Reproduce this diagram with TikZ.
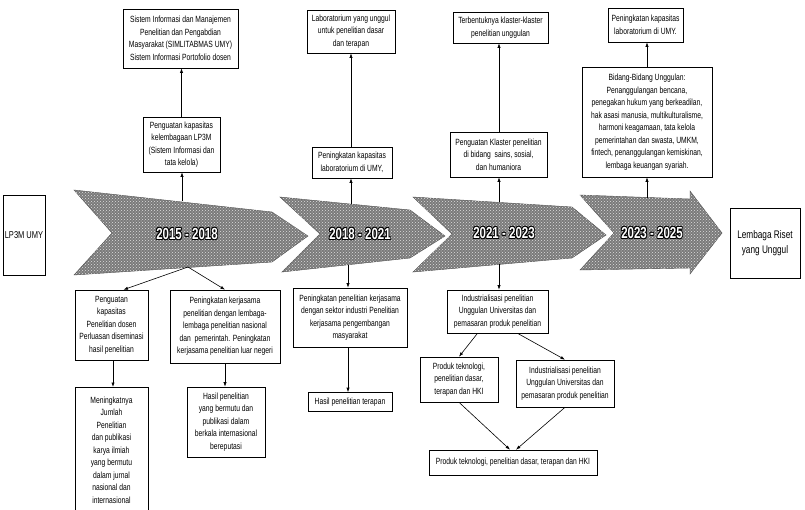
\documentclass[tikz,border=0pt]{standalone}
\usepackage{fontspec}
\setmainfont{Liberation Sans}[FakeStretch=0.75]
\newfontfamily\yearfont{Liberation Sans}[FakeStretch=0.72]
\usetikzlibrary{arrows.meta,patterns}
\newcommand\yearout[1]{%
  \rlap{\hspace{0.8pt}#1}\rlap{\hspace{-0.8pt}#1}\rlap{\raisebox{0.8pt}{#1}}\rlap{\raisebox{-0.8pt}{#1}}%
  \rlap{\hspace{0.6pt}\raisebox{0.6pt}{#1}}\rlap{\hspace{-0.6pt}\raisebox{0.6pt}{#1}}%
  \rlap{\hspace{0.6pt}\raisebox{-0.6pt}{#1}}\rlap{\hspace{-0.6pt}\raisebox{-0.6pt}{#1}}%
  {\color{white}#1}}
\tikzset{
  box/.style={draw=black, line width=0.6pt, fill=white, inner sep=2pt, align=center,
    font=\fontsize{9}{12.5}\selectfont},
  bigbox/.style={box, font=\fontsize{11}{15}\selectfont},
  arr/.style={draw=black, line width=0.6pt, -{Latex[length=4.5pt,width=3.2pt]}},
  chev/.style={fill=black!52, draw=black!70, line width=0.4pt,
    postaction={pattern=crosshatch dots, pattern color=white!75!gray}},
  year/.style={font=\yearfont\bfseries\fontsize{16}{16}\selectfont, text=black, inner sep=1pt}
}
\begin{document}
\begin{tikzpicture}[x=1pt,y=-1pt]
\useasboundingbox (0,0) rectangle (805,509);
% chevrons
\path[chev] (74,190) -- (272,212) -- (308,236) -- (272,262) -- (74,275) -- (112,233) -- cycle;
\path[chev] (280,197) -- (410,210) -- (445,236) -- (410,258) -- (282,272) -- (320,234) -- cycle;
\path[chev] (413,197) -- (572,207) -- (606,235) -- (572,258) -- (413,272) -- (452,234) -- cycle;
\path[chev] (580,195) -- (690,199) -- (690,191) -- (722,233) -- (690,274) -- (690,268) -- (580,270) -- (614,233) -- cycle;
\node[year] (y1) at (187,234) {\yearout{2015 - 2018}};
\node[year] (y2) at (360,234) {\yearout{2018 - 2021}};
\node[year] (y3) at (504,233) {\yearout{2021 - 2023}};
\node[year] (y4) at (652,233) {\yearout{2023 - 2025}};
% anchor points on chevrons
\coordinate (c1t) at (182,201);
\coordinate (c2t) at (351,204);
\coordinate (c3t) at (499,202);
\coordinate (c4t) at (647,198);
\coordinate (c1b) at (188,267);
\coordinate (c2b) at (348,265);
\coordinate (c3b) at (499,264);
% end boxes
\node[bigbox, font=\fontsize{10}{13}\selectfont, minimum width=38pt, minimum height=80pt] (lp) at (24,235) {LP3M UMY};
\node[bigbox, minimum width=70pt, minimum height=70pt] (lr) at (765,243) {Lembaga Riset\\yang Unggul};
% top boxes
\node[box, minimum width=115pt, minimum height=59pt] (t1) at (180.5,38.5) {Sistem Informasi dan Manajemen\\Penelitian dan Pengabdian\\Masyarakat (SIMLITABMAS UMY)\\Sistem Informasi Portofolio dosen};
\node[box, minimum width=77pt, minimum height=55pt] (t2) at (181.5,144.5) {Penguatan kapasitas\\kelembagaan LP3M\\(Sistem Informasi dan\\tata kelola)};
\node[box, minimum width=88pt, minimum height=43pt] (t3) at (351,31.5) {Laboratorium yang unggul\\untuk penelitian dasar\\dan terapan};
\node[box, minimum width=80pt, minimum height=31pt] (t4) at (352,162.5) {Peningkatan kapasitas\\laboratorium di UMY,};
\node[box, minimum width=95pt, minimum height=31pt] (t5) at (500.5,27.5) {Terbentuknya klaster-klaster\\penelitian unggulan};
\node[box, minimum width=97pt, minimum height=45pt] (t6) at (498.5,154.5) {Penguatan Klaster penelitian\\di bidang~ sains, sosial,\\dan humaniora};
\node[box, minimum width=75pt, minimum height=34pt] (t7) at (645.5,25) {Peningkatan kapasitas\\laboratorium di UMY.};
\node[box, minimum width=130pt, minimum height=110pt] (t8) at (647,122) {Bidang-Bidang Unggulan:\\Penanggulangan bencana,\\penegakan hukum yang berkeadilan,\\hak asasi manusia, multikulturalisme,\\harmoni keagamaan, tata kelola\\pemerintahan dan swasta, UMKM,\\fintech, penanggulangan kemiskinan,\\lembaga keuangan syariah.};
% bottom boxes
\node[box, minimum width=73pt, minimum height=70pt] (b1) at (111.5,325) {Penguatan\\kapasitas\\Penelitian dosen\\Perluasan diseminasi\\hasil penelitian};
\node[box, minimum width=110pt, minimum height=73pt] (b2) at (225,326.5) {Peningkatan kerjasama\\penelitian dengan lembaga-\\lembaga penelitian nasional\\dan~ pemerintah. Peningkatan\\kerjasama penelitian luar negeri};
\node[box, minimum width=114pt, minimum height=59pt] (b3) at (350,317.5) {Peningkatan penelitian kerjasama\\dengan sektor industri Penelitian\\kerjasama pengembangan\\masyarakat};
\node[box, minimum width=101pt, minimum height=43pt] (b4) at (497.5,311.5) {Industrialisasi penelitian\\Unggulan Universitas dan\\pemasaran produk penelitian};
\node[box, anchor=north, minimum width=73pt, minimum height=125pt] (b5) at (111.5,387) {Meningkatnya\\Jumlah\\Penelitian\\dan publikasi\\karya ilmiah\\yang bermutu\\dalam jurnal\\nasional dan\\internasional};
\node[box, minimum width=78pt, minimum height=70pt] (b6) at (226,422) {Hasil penelitian\\yang bermutu dan\\publikasi dalam\\berkala internasional\\bereputasi};
\node[box, minimum width=84pt, minimum height=19pt] (b7) at (350,402) {Hasil penelitian terapan};
\node[box, minimum width=78pt, minimum height=45pt] (b8) at (459,379.5) {Produk teknologi,\\penelitian dasar,\\terapan dan HKI};
\node[box, minimum width=98pt, minimum height=47pt] (b9) at (565,383.5) {Industrialisasi penelitian\\Unggulan Universitas dan\\pemasaran produk penelitian};
\node[box, minimum width=168pt, minimum height=25pt] (b10) at (513,462.5) {Produk teknologi, penelitian dasar, terapan dan HKI};
% connectors up
\draw[arr] (c1t) -- (c1t |- t2.south);
\draw[arr] (t2.north) -- (t2.north |- t1.south);
\draw[arr] (c2t) -- (c2t |- t4.south);
\draw[arr] (t4.north -| c2t) -- (c2t |- t3.south);
\draw[arr] (c3t) -- (c3t |- t6.south);
\draw[arr] (t6.north -| c3t) -- (c3t |- t5.south);
\draw[arr] (c4t) -- (c4t |- t8.south);
\draw[arr] (t8.north -| c4t) -- (c4t |- t7.south);
% connectors down
\draw[arr] (c1b) -- ([xshift=12pt]b1.north);
\draw[arr] (c1b) -- (b2.north);
\draw[arr] (c2b) -- (c2b |- b3.north);
\draw[arr] (c3b) -- (c3b |- b4.north);
\draw[arr] ([xshift=1.5pt]b1.south) -- ([xshift=1.5pt]b5.north);
\draw[arr] (b2.south) -- (b2.south |- b6.north);
\draw[arr] (b3.south -| c2b) -- (c2b |- b7.north);
\draw[arr] ([xshift=-20pt]b4.south) -- (b8.north);
\draw[arr] ([xshift=20pt]b4.south) -- (b9.north);
\draw[arr] (b8.south) -- ([xshift=-3pt]b10.north);
\draw[arr] (b9.south) -- ([xshift=3pt]b10.north);
\end{tikzpicture}
\end{document}
